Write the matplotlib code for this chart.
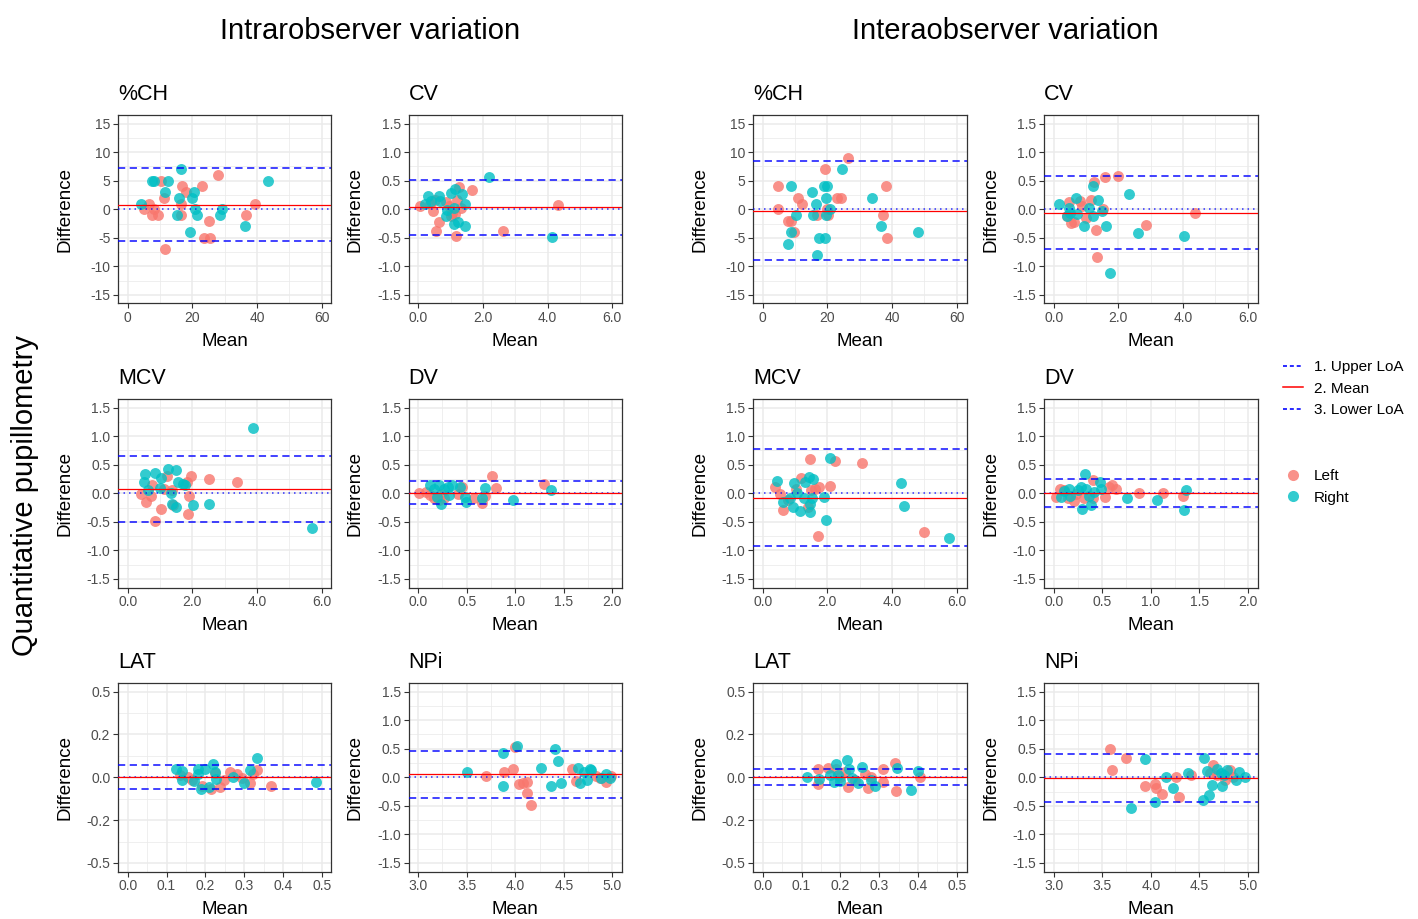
import numpy as np
import matplotlib
matplotlib.use("Agg")
import matplotlib.pyplot as plt
from matplotlib.lines import Line2D
from matplotlib.ticker import MultipleLocator, FixedLocator, FormatStrFormatter

plt.rcParams['font.family'] = ['Liberation Sans', 'DejaVu Sans']
plt.rcParams['axes.unicode_minus'] = False

# Bland-Altman data: columns are (mean, difference)
# ---- intraobserver ----
intra_ch_left = np.array([[5.1, 0], [6.5, 1], [7.5, -1], [8.0, 0], [9.3, -1], [10.4, 5], [11.1, 2], [11.4, -7],
                          [16.5, -1], [16.9, 4], [18.0, 3], [16.5, 1], [23.1, 4], [23.5, -5], [25.0, -2],
                          [25.5, -5], [28.0, 6], [36.5, -1], [39.5, 1]])
intra_ch_right = np.array([[4.2, 1], [7.5, 5], [8.2, 5], [11.5, 3], [12.4, 5], [16.4, 7], [16.0, 2], [15.2, -1],
                           [19.2, -4], [20.0, 2], [20.5, 3], [20.8, 0], [21.4, -1], [28.5, -1], [29.0, 0],
                           [36.4, -3], [43.4, 5]])
intra_cv_left = np.array([[0.05, 0.06], [0.36, 0.09], [0.46, -0.03], [0.56, -0.38], [0.64, -0.22], [0.51, 0.17],
                          [0.85, 0.13], [0.95, 0.06], [1.05, -0.06], [1.13, -0.09], [1.18, -0.47], [1.26, 0.39],
                          [1.21, 0.17], [1.31, 0.03], [1.67, 0.34], [2.62, -0.38], [4.33, 0.07], [1.0, -0.12]])
intra_cv_right = np.array([[0.2, 0.1], [0.31, 0.23], [0.41, 0.15], [0.64, 0.23], [0.67, 0.15], [0.89, -0.02],
                           [0.87, -0.12], [1.0, 0.29], [1.13, 0.36], [1.1, -0.25], [1.22, -0.23], [1.36, 0.26],
                           [1.44, 0.1], [1.45, -0.3], [2.2, 0.57], [4.15, -0.49], [1.1, 0.03]])
intra_mcv_left = np.array([[0.42, -0.02], [0.56, -0.15], [0.71, -0.04], [0.74, 0.14], [0.84, -0.48], [1.02, -0.27],
                           [1.12, 0.08], [1.23, 0.31], [1.41, -0.21], [1.37, 0.05], [1.84, 0.2], [1.9, -0.05],
                           [1.95, 0.3], [1.85, -0.37], [2.51, 0.25], [3.38, 0.19]])
intra_mcv_right = np.array([[0.53, 0.34], [0.51, 0.19], [0.63, 0.06], [0.84, 0.36], [1.02, 0.26], [1.26, 0.43],
                            [1.49, 0.40], [1.56, 0.20], [1.70, 0.17], [1.76, 0.15], [1.33, 0.0], [1.37, -0.19],
                            [1.50, -0.24], [2.01, -0.2], [2.51, -0.19], [3.87, 1.14], [5.71, -0.6], [1.0, 0.1]])
intra_dv_left = np.array([[0.01, 0.0], [0.08, 0.02], [0.12, -0.03], [0.16, -0.08], [0.21, -0.12], [0.23, -0.02],
                          [0.41, -0.01], [0.45, 0.11], [0.58, -0.09], [0.66, -0.17], [0.69, -0.04], [0.76, 0.31],
                          [0.8, 0.1], [1.3, 0.16], [0.27, -0.09]])
intra_dv_right = np.array([[0.12, 0.14], [0.16, 0.08], [0.21, 0.14], [0.24, -0.19], [0.27, 0.08], [0.31, 0.11],
                           [0.35, 0.15], [0.43, 0.11], [0.32, -0.03], [0.48, -0.06], [0.49, -0.15], [0.66, -0.09],
                           [0.69, 0.09], [0.98, -0.12], [1.37, 0.05], [0.19, -0.06]])
intra_lat_left = np.array([[0.136, 0.014], [0.155, 0.004], [0.166, -0.016], [0.192, -0.05], [0.214, -0.07],
                           [0.224, 0.023], [0.237, -0.058], [0.247, -0.016], [0.264, 0.033], [0.281, 0.02],
                           [0.295, -0.006], [0.315, -0.035], [0.324, 0.02], [0.332, 0.043], [0.368, -0.05]])
intra_lat_right = np.array([[0.124, 0.047], [0.141, 0.037], [0.141, -0.016], [0.17, -0.02], [0.18, 0.047],
                            [0.18, 0.02], [0.19, -0.07], [0.2, 0.047], [0.21, -0.055], [0.22, 0.08],
                            [0.225, 0.033], [0.228, -0.012], [0.27, 0.004], [0.30, -0.035], [0.315, 0.043],
                            [0.334, 0.11], [0.484, -0.027]])
intra_npi_left = np.array([[3.7, 0.03], [3.88, 0.1], [3.98, 0.14], [4.0, 0.53], [4.04, -0.12], [4.12, -0.09],
                           [4.12, -0.28], [4.16, -0.48], [4.08, -0.1], [4.58, 0.14], [4.63, -0.06], [4.83, 0.03],
                           [4.93, -0.09], [4.99, 0.02], [4.87, -0.02]])
intra_npi_right = np.array([[3.5, 0.1], [3.87, 0.42], [3.87, -0.16], [4.02, 0.55], [4.27, 0.17], [4.41, 0.49],
                            [4.44, 0.29], [4.37, -0.16], [4.47, -0.1], [4.65, 0.17], [4.67, -0.1], [4.71, 0.1],
                            [4.77, 0.14], [4.78, 0.13], [4.88, -0.02], [4.93, 0.06], [4.98, -0.02], [4.74, -0.04]])
# ---- interobserver ----
inter_ch_left = np.array([[4.8, 4], [4.6, 0], [7.8, -2], [8.9, -2], [9.7, -4], [10.9, 2], [12.3, 1], [16.8, -1],
                          [19.4, 7], [20.0, 0], [20.3, -1], [22.9, 2], [24.1, 2], [26.3, 9], [37.3, -1],
                          [38.0, 4], [38.5, -5]])
inter_ch_right = np.array([[8.9, 4], [7.8, -6], [8.9, -4], [10.3, -1], [15.3, 3], [15.5, -1], [16.6, 1], [16.9, -8],
                           [17.4, -5], [18.8, 4], [19.9, 4], [19.7, 2], [19.4, -5], [19.6, -1], [20.8, 0],
                           [24.5, 7], [33.8, 2], [36.5, -3], [48.1, -4]])
inter_cv_left = np.array([[0.46, 0.12], [0.42, -0.12], [0.52, -0.24], [0.63, -0.23], [0.8, 0.15], [0.88, 0.06],
                          [0.99, -0.15], [1.14, 0.17], [1.26, 0.47], [1.32, -0.36], [1.34, -0.83], [1.6, 0.56],
                          [1.52, 0.0], [2.0, 0.58], [2.86, -0.28], [4.38, -0.06]])
inter_cv_right = np.array([[0.15, 0.09], [0.46, 0.03], [0.49, -0.07], [0.69, 0.2], [0.72, -0.09], [0.95, -0.29],
                           [1.09, 0.03], [1.2, 0.4], [1.23, -0.12], [1.38, 0.17], [1.49, -0.03], [1.63, -0.29],
                           [1.75, -1.12], [2.32, 0.26], [2.62, -0.42], [4.02, -0.47], [0.4, -0.12]])
inter_mcv_left = np.array([[0.39, 0.11], [0.54, -0.01], [0.62, -0.29], [0.77, -0.12], [1.02, 0.08], [1.17, 0.27],
                           [1.40, -0.24], [1.46, 0.6], [1.49, 0.05], [1.63, 0.08], [1.74, 0.11], [1.72, -0.74],
                           [2.09, 0.12], [2.24, 0.56], [3.08, 0.53], [4.98, -0.67]])
inter_mcv_right = np.array([[0.44, 0.22], [0.63, -0.15], [0.83, -0.09], [0.94, -0.24], [0.96, 0.18], [1.06, 0.01],
                            [1.14, -0.31], [1.31, 0.2], [1.28, -0.09], [1.42, 0.29], [1.46, -0.18], [1.46, -0.33],
                            [1.55, 0.25], [1.51, -0.09], [1.88, -0.06], [1.95, -0.46], [2.09, 0.62], [4.27, 0.18],
                            [4.38, -0.22], [5.76, -0.79]])
inter_dv_left = np.array([[0.02, -0.06], [0.06, 0.07], [0.11, 0.05], [0.15, -0.09], [0.21, -0.14], [0.23, -0.01],
                          [0.31, -0.09], [0.40, 0.23], [0.41, -0.09], [0.53, -0.06], [0.57, 0.11], [0.60, 0.14],
                          [0.64, 0.08], [0.88, 0.0], [1.13, 0.0], [1.33, -0.04]])
inter_dv_right = np.array([[0.08, -0.06], [0.11, 0.04], [0.16, 0.08], [0.17, -0.05], [0.25, 0.05], [0.28, 0.11],
                           [0.29, -0.28], [0.32, 0.34], [0.33, 0.08], [0.36, -0.04], [0.38, -0.21], [0.42, 0.02],
                           [0.48, 0.19], [0.49, 0.07], [0.76, -0.09], [1.06, -0.12], [1.34, -0.3], [1.36, 0.05]])
inter_lat_left = np.array([[0.143, 0.047], [0.143, -0.039], [0.169, 0.053], [0.188, 0.047], [0.2, 0.004],
                           [0.212, 0.033], [0.221, -0.058], [0.239, -0.016], [0.264, 0.02], [0.271, -0.064],
                           [0.279, 0.004], [0.309, 0.047], [0.309, -0.025], [0.341, 0.082], [0.344, -0.078],
                           [0.405, 0.0]])
inter_lat_right = np.array([[0.115, 0.0], [0.145, -0.012], [0.174, 0.014], [0.188, 0.078], [0.183, -0.025],
                            [0.193, 0.014], [0.2, -0.02], [0.217, 0.1], [0.223, 0.047], [0.231, -0.006],
                            [0.245, -0.035], [0.255, 0.058], [0.279, -0.016], [0.288, -0.05], [0.347, 0.053],
                            [0.382, -0.074], [0.401, 0.039]])
inter_npi_left = np.array([[3.58, 0.5], [3.6, 0.12], [3.75, 0.33], [3.94, -0.16], [4.04, -0.12], [4.05, -0.19],
                           [4.12, -0.29], [4.26, 0.0], [4.29, -0.35], [4.41, 0.04], [4.64, 0.22], [4.68, 0.04],
                           [4.77, -0.05], [4.82, 0.12], [4.85, 0.0], [4.61, 0.08]])
inter_npi_right = np.array([[3.8, -0.54], [3.94, 0.32], [4.04, -0.44], [4.16, 0.0], [4.23, -0.19], [4.38, 0.08],
                            [4.54, -0.4], [4.55, 0.33], [4.6, -0.31], [4.63, -0.13], [4.58, 0.11], [4.68, 0.14],
                            [4.72, 0.08], [4.73, -0.16], [4.79, 0.12], [4.88, -0.05], [4.91, 0.1], [4.97, 0.0],
                            [4.75, 0.04]])

# limits of agreement: (upper, mean, lower)
intra_loa = {"%CH": (7.2, 0.8, -5.6), "CV": (0.52, 0.04, -0.45), "MCV": (0.66, 0.075, -0.51),
             "DV": (0.21, 0.01, -0.19), "LAT": (0.07, 0.0, -0.068), "NPi": (0.46, 0.05, -0.36)}
inter_loa = {"%CH": (8.4, -0.3, -8.9), "CV": (0.58, -0.06, -0.70), "MCV": (0.77, -0.08, -0.93),
             "DV": (0.245, 0.0, -0.235), "LAT": (0.047, 0.0, -0.045), "NPi": (0.40, -0.01, -0.44)}

intra_pts = {"%CH": (intra_ch_left, intra_ch_right), "CV": (intra_cv_left, intra_cv_right),
             "MCV": (intra_mcv_left, intra_mcv_right), "DV": (intra_dv_left, intra_dv_right),
             "LAT": (intra_lat_left, intra_lat_right), "NPi": (intra_npi_left, intra_npi_right)}
inter_pts = {"%CH": (inter_ch_left, inter_ch_right), "CV": (inter_cv_left, inter_cv_right),
             "MCV": (inter_mcv_left, inter_mcv_right), "DV": (inter_dv_left, inter_dv_right),
             "LAT": (inter_lat_left, inter_lat_right), "NPi": (inter_npi_left, inter_npi_right)}

# axis setup per measure: xlim, xstep, ylim, yticks, x format, y format
axis_spec = {
    "%CH": ((0, 60), 20, (-15, 15), [-15, -10, -5, 0, 5, 10, 15], "%d", "%d"),
    "CV": ((0, 6), 2, (-1.5, 1.5), [-1.5, -1.0, -0.5, 0, 0.5, 1.0, 1.5], "%.1f", "%.1f"),
    "MCV": ((0, 6), 2, (-1.5, 1.5), [-1.5, -1.0, -0.5, 0, 0.5, 1.0, 1.5], "%.1f", "%.1f"),
    "DV": ((0, 2), 0.5, (-1.5, 1.5), [-1.5, -1.0, -0.5, 0, 0.5, 1.0, 1.5], "%.1f", "%.1f"),
    "LAT": ((0, 0.5), 0.1, (-0.5, 0.5), [-0.5, -0.25, 0, 0.25, 0.5], "%.1f", "%.1f"),
    "NPi": ((3, 5), 0.5, (-1.5, 1.5), [-1.5, -1.0, -0.5, 0, 0.5, 1.0, 1.5], "%.1f", "%.1f"),
}

LEFT_COL = "#F8766D"
RIGHT_COL = "#00BFC4"
W, H = 1418, 919

fig = plt.figure(figsize=(W / 100, H / 100), dpi=100)

col_left = [118, 408.5, 753, 1044]
row_top = [115, 399, 683]
pw, ph = 213.5, 188.5

layout = [("%CH", 0, 0), ("CV", 0, 1), ("MCV", 1, 0), ("DV", 1, 1), ("LAT", 2, 0), ("NPi", 2, 1)]


def draw_panel(ax, name, pts, loa):
    xlim, xstep, ylim, yticks, xfmt, yfmt = axis_spec[name]
    left, right = pts
    ax.scatter(left[:, 0], left[:, 1], s=62, color=LEFT_COL, alpha=0.8, lw=0, zorder=3)
    ax.scatter(right[:, 0], right[:, 1], s=62, color=RIGHT_COL, alpha=0.8, lw=0, zorder=3)
    up, mn, lo = loa
    ax.axhline(0, color="blue", lw=1.1, dashes=(1, 2.6), alpha=0.8, zorder=4)
    ax.axhline(up, color="blue", lw=1.3, dashes=(4, 2.5), alpha=0.8, zorder=4)
    ax.axhline(lo, color="blue", lw=1.3, dashes=(4, 2.5), alpha=0.8, zorder=4)
    ax.axhline(mn, color="red", lw=0.9, zorder=5)

    xr = xlim[1] - xlim[0]
    yr = ylim[1] - ylim[0]
    ax.set_xlim(xlim[0] - 0.05 * xr, xlim[1] + 0.05 * xr)
    ax.set_ylim(ylim[0] - 0.05 * yr, ylim[1] + 0.05 * yr)
    ax.xaxis.set_major_locator(MultipleLocator(xstep))
    ax.xaxis.set_minor_locator(MultipleLocator(xstep / 2))
    ax.yaxis.set_major_locator(FixedLocator(yticks))
    ymid = [(a + b) / 2 for a, b in zip(yticks[:-1], yticks[1:])]
    ax.yaxis.set_minor_locator(FixedLocator(ymid))
    ax.xaxis.set_major_formatter(FormatStrFormatter(xfmt))
    ax.yaxis.set_major_formatter(FormatStrFormatter(yfmt))

    ax.grid(which="major", color="#EBEBEB", lw=1.1, zorder=0)
    ax.grid(which="minor", color="#EBEBEB", lw=0.55, zorder=0)
    ax.set_axisbelow(True)
    ax.tick_params(which="major", length=3.5, width=0.8, color="#333333", labelsize=10,
                   labelcolor="#4D4D4D", pad=2)
    ax.tick_params(which="minor", length=0)
    for sp in ax.spines.values():
        sp.set_color("#333333")
        sp.set_linewidth(0.9)

    ax.set_xlabel("Mean", fontsize=13.5)
    ax.set_ylabel("Difference", fontsize=13.5)
    ax.xaxis.set_label_coords(0.5, -0.157)
    ax.yaxis.set_label_coords(-0.21, 0.5)
    ax.text(0, 1.08, name, transform=ax.transAxes, ha="left", va="baseline", fontsize=15.5)


for block, pts_d, loa_d in [(0, intra_pts, intra_loa), (1, inter_pts, inter_loa)]:
    for name, r, c in layout:
        x0 = col_left[block * 2 + c]
        y0 = row_top[r]
        ax = fig.add_axes([x0 / W, 1 - (y0 + ph) / H, pw / W, ph / H])
        draw_panel(ax, name, pts_d[name], loa_d[name])

fig.text(370 / W, 1 - 39 / H, "Intrarobserver variation", ha="center", va="baseline", fontsize=21)
fig.text(1005.5 / W, 1 - 39 / H, "Interaobserver variation", ha="center", va="baseline", fontsize=21)
fig.text(25 / W, 1 - 495 / H, "Quantitative pupillometry", ha="center", va="center",
         rotation=90, fontsize=21)

line_handles = [Line2D([], [], color="blue", lw=1.3, dashes=(2.2, 1.6), alpha=0.9),
                Line2D([], [], color="red", lw=1.1),
                Line2D([], [], color="blue", lw=1.3, dashes=(2.2, 1.6), alpha=0.9)]
leg1 = fig.legend(line_handles, ["1. Upper LoA", "2. Mean", "3. Lower LoA"], loc="upper left",
                  bbox_to_anchor=(1283 / W, 1 - 360 / H), frameon=False, fontsize=11,
                  handlelength=1.3, handletextpad=0.7, labelspacing=0.5, borderpad=0, borderaxespad=0)
pt_handles = [Line2D([], [], ls="none", marker="o", ms=8, color=LEFT_COL, alpha=0.8, mew=0),
              Line2D([], [], ls="none", marker="o", ms=8, color=RIGHT_COL, alpha=0.8, mew=0)]
leg2 = fig.legend(pt_handles, ["Left", "Right"], loc="upper left",
                  bbox_to_anchor=(1283 / W, 1 - 469 / H), frameon=False, fontsize=11,
                  handlelength=1.3, handletextpad=0.7, labelspacing=0.5, borderpad=0, borderaxespad=0)

fig.savefig("out.png", dpi=100)
